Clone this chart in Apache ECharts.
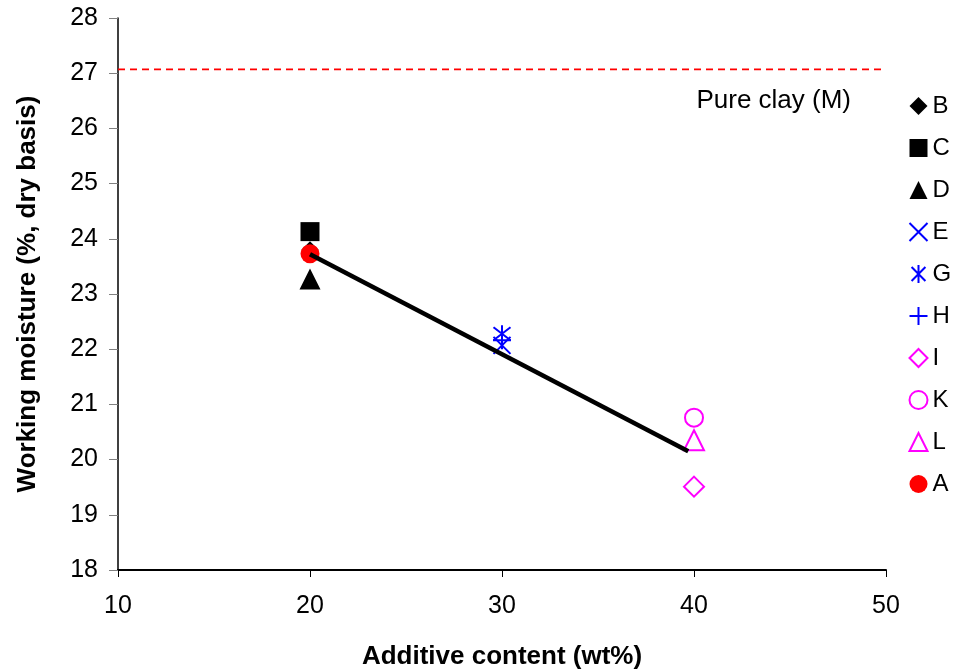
<!DOCTYPE html>
<html>
<head>
<meta charset="utf-8">
<script src="https://cdn.jsdelivr.net/npm/echarts@6/dist/echarts.min.js"></script>
<style>
  html, body { margin: 0; padding: 0; background: #fff; }
  #chart { width: 954px; height: 672px; }
</style>
</head>
<body>
<div id="chart"></div>
<script>
// data
var names = ['B', 'C', 'D', 'E', 'G', 'H', 'I', 'K', 'L', 'A'];
var xs    = [20, 20, 20, 30, 30, 30, 40, 40, 40, 20];
var ys    = [23.8, 24.13, 23.27, 22.07, 22.28, 22.16, 19.51, 20.76, 20.35, 23.73];
var trendX = [20, 39.7];
var trendY = [23.72, 20.15];
var clayX = [10, 50];
var clayY = [27.07, 27.07];
var yTicks = [18, 28, 1];
var xTicks = [10, 50, 10];

var BLUE = '#0000ff', MAG = '#ff00ff';
var FONT = 'Liberation Sans, Arial, sans-serif';
var crossPath = 'path://M0,0L10,10M10,0L0,10';
var starPath = 'path://M0,0L10,10M10,0L0,10M5,-1.5L5,11.5';
var plusPath = 'path://M0,5L10,5M5,0L5,10';

// symbol, size, fill, stroke
var looks = {
  B: ['diamond', 17, '#000', '#000'],
  C: ['rect', 19, '#000', '#000'],
  D: ['triangle', 21, '#000', '#000'],
  E: [crossPath, 17, 'none', BLUE],
  G: [starPath, 17, 'none', BLUE],
  H: [plusPath, 18, 'none', BLUE],
  I: ['diamond', 20, '#fff', MAG],
  K: ['circle', 18, '#fff', MAG],
  L: ['triangle', 20, '#fff', MAG],
  A: ['circle', 19, '#ff0000', '#ff0000']
};

var series = [];
for (var i = 0; i < names.length; i++) {
  var lk = looks[names[i]];
  series.push({
    name: names[i],
    type: 'scatter',
    symbol: lk[0],
    symbolSize: lk[1],
    itemStyle: {
      color: lk[2],
      opacity: 1,
      borderColor: lk[3],
      borderWidth: lk[2] === '#000' || names[i] === 'A' ? 0 : 2
    },
    data: [[xs[i], ys[i]]],
    z: 3
  });
}
series.push({
  name: 'trend',
  type: 'line',
  data: [[trendX[0], trendY[0]], [trendX[1], trendY[1]]],
  symbol: 'none',
  lineStyle: { color: '#000', width: 4.5 },
  z: 5
});
series.push({
  name: 'clay',
  type: 'line',
  data: [[clayX[0], clayY[0]], [clayX[1], clayY[1]]],
  symbol: 'none',
  lineStyle: { color: '#ff0000', width: 1.8, type: [7, 5] },
  z: 2
});

var mychart = echarts.init(document.getElementById('chart'));
var option = {
  animation: false,
  backgroundColor: '#fff',
  textStyle: { fontFamily: FONT },
  grid: { left: 118, right: 68, top: 18, bottom: 102, outerBoundsMode: 'none', containLabel: false },
  xAxis: {
    type: 'value',
    min: xTicks[0], max: xTicks[1], interval: xTicks[2],
    name: 'Additive content (wt%)',
    nameLocation: 'middle',
    nameGap: 74,
    nameTextStyle: { fontSize: 26, fontWeight: 'bold', color: '#000' },
    axisLine: { lineStyle: { color: '#000', width: 2 } },
    axisTick: { length: 7, lineStyle: { color: '#000' } },
    axisLabel: { fontSize: 25, color: '#000', margin: 24 },
    splitLine: { show: false }
  },
  yAxis: {
    type: 'value',
    min: yTicks[0], max: yTicks[1], interval: yTicks[2],
    name: 'Working moisture (%, dry basis)',
    nameLocation: 'middle',
    nameGap: 77,
    nameTextStyle: { fontSize: 26, fontWeight: 'bold', color: '#000' },
    axisLine: { show: true, lineStyle: { color: '#000', width: 1.5 } },
    axisTick: { show: true, length: 9, lineStyle: { color: '#808080' } },
    axisLabel: { fontSize: 25, color: '#000', margin: 20 },
    splitLine: { show: false }
  },
  legend: {
    data: names,
    orient: 'vertical',
    left: 907,
    top: 94,
    padding: 0,
    itemWidth: 18,
    itemHeight: 18,
    itemGap: 18,
    textStyle: { fontSize: 24, color: '#000' }
  },
  graphic: [{
    type: 'text',
    right: 103,
    top: 88,
    style: { text: 'Pure clay (M)', fontSize: 26, fill: '#000', fontFamily: FONT }
  }],
  series: series
};
mychart.setOption(option);
</script>
</body>
</html>
